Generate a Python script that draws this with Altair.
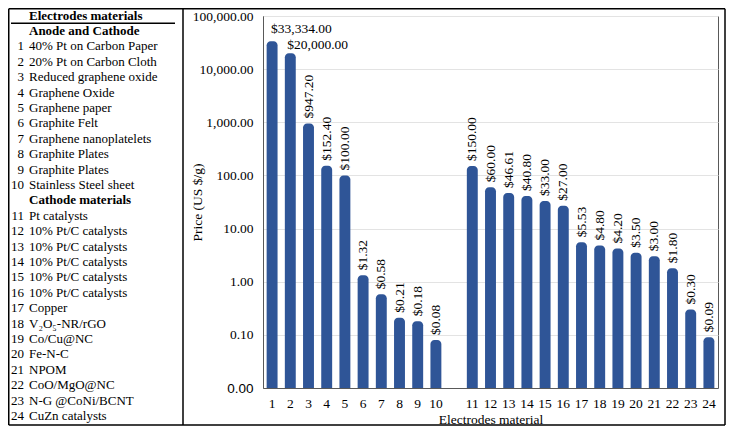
import altair as alt
import pandas as pd

# ---- data ----
ids = [str(i) for i in range(1, 25)]
prices = [33334.00, 20000.00, 947.20, 152.40, 100.00, 1.32, 0.58, 0.21, 0.18, 0.08,
          150.00, 60.00, 46.61, 40.80, 33.00, 27.00, 5.53, 4.80, 4.20, 3.50, 3.00, 1.80, 0.30, 0.09]
horizontal_label = [True, True] + [False] * 22

names = ["40% Pt on Carbon Paper", "20% Pt on Carbon Cloth", "Reduced graphene oxide",
         "Graphene Oxide", "Graphene paper", "Graphite Felt", "Graphene nanoplatelets",
         "Graphite Plates", "Graphite Plates", "Stainless Steel sheet",
         "Pt catalysts", "10% Pt/C catalysts", "10% Pt/C catalysts", "10% Pt/C catalysts",
         "10% Pt/C catalysts", "10% Pt/C catalysts", "Copper", "V\u2082O\u2085-NR/rGO",
         "Co/Cu@NC", "Fe-N-C", "NPOM", "CoO/MgO@NC", "N-G @CoNi/BCNT", "CuZn catalysts"]
table_title = "Electrodes materials"
group_titles = ["Anode and Cathode", "Cathode materials"]
y_ticks = [0.01, 0.1, 1, 10, 100, 1000, 10000, 100000]

# x domain with an empty slot between the two groups
x_domain = ids[:10] + [" "] + ids[10:]

# ---- table rows ----
rows = [{"row": 0, "num": "", "text": table_title, "bold": True},
        {"row": 1, "num": "", "text": group_titles[0], "bold": True}]
r = 2
for i in range(10):
    rows.append({"row": r, "num": ids[i], "text": names[i], "bold": False}); r += 1
rows.append({"row": r, "num": "", "text": group_titles[1], "bold": True}); r += 1
for i in range(10, 24):
    rows.append({"row": r, "num": ids[i], "text": names[i], "bold": False}); r += 1
tdf = pd.DataFrame(rows)

SERIF = "Liberation Serif"
W, H = 455, 372
FS = 13.5

# ---- table (left of the plot) ----
row_scale = alt.Scale(domain=[0, 26], range=[-0.5, 400], nice=False, zero=False)
yrow = alt.Y("row:Q", scale=row_scale, axis=None)
tbase = alt.Chart(tdf)
t_num = tbase.mark_text(align="right", baseline="middle", font=SERIF, fontSize=13, color="black").encode(
    x=alt.value(-239), y=yrow, text="num:N")
t_name = tbase.transform_filter("!datum.bold").mark_text(
    align="left", baseline="middle", font=SERIF, fontSize=13, color="black").encode(
    x=alt.value(-234), y=yrow, text="text:N")
t_bold = tbase.transform_filter("datum.bold").mark_text(
    align="left", baseline="middle", font=SERIF, fontSize=13, fontWeight="bold", color="black").encode(
    x=alt.value(-234), y=yrow, text="text:N")
t_rule = alt.Chart(pd.DataFrame({"p": [0.5]})).mark_rule(color="black", strokeWidth=1.5).encode(
    x=alt.value(-252), x2=alt.value(-88), y=alt.Y("p:Q", scale=row_scale, axis=None))
table = alt.layer(t_num, t_name, t_bold, t_rule)

# ---- bar chart ----
bdf = pd.DataFrame({"id": ids, "price": prices, "horiz": horizontal_label})
yscale = alt.Scale(type="log", domain=[0.01, 100000], nice=False)

xenc = alt.X("id:N", sort=x_domain,
             scale=alt.Scale(domain=x_domain, paddingInner=0.4, paddingOuter=0.2),
             axis=alt.Axis(title="Electrodes material", labelAngle=0, ticks=False, tickSize=0,
                           labelPadding=8, labelFont=SERIF, labelFontSize=FS, labelColor="black",
                           titleFont=SERIF, titleFontSize=FS, titleFontWeight="normal",
                           titleColor="black", titlePadding=3, domainColor="#595959", grid=False))
yenc = alt.Y("price:Q", scale=yscale,
             axis=alt.Axis(title="Price (US $/g)", values=y_ticks, ticks=False, tickSize=0,
                           labelPadding=10, labelFontSize=FS, labelColor="black",
                           labelFont={"condition": {"test": "datum.value < 0.05", "value": "Liberation Sans"},
                                      "value": SERIF},
                           labelExpr="datum.value < 0.05 ? '0.00' : format(datum.value, ',.2f')",
                           grid=True, gridColor="#e3e3e3", domainColor="#595959",
                           titleFont=SERIF, titleFontSize=FS, titleFontWeight="normal",
                           titleColor="black", titlePadding=-12))
ylab = alt.Y("price:Q", scale=yscale)
xlab = alt.X("id:N", sort=x_domain)

bbase = alt.Chart(bdf)
bars = bbase.mark_bar(color="#2F5597", cornerRadiusTopLeft=4, cornerRadiusTopRight=4).encode(
    x=xenc, y=yenc, y2=alt.datum(0.01))
lab_v = bbase.transform_filter("!datum.horiz").mark_text(
    angle=270, align="left", baseline="middle", dx=5, font=SERIF, fontSize=FS, color="black").encode(
    x=xlab, y=ylab, text=alt.Text("price:Q", format="$,.2f"))
lab_h1 = bbase.transform_filter("datum.horiz && datum.id == '1'").mark_text(
    align="left", baseline="bottom", dx=-1, dy=-5, font=SERIF, fontSize=FS, color="black").encode(
    x=xlab, y=ylab, text=alt.Text("price:Q", format="$,.2f"))
lab_h2 = bbase.transform_filter("datum.horiz && datum.id != '1'").mark_text(
    align="left", baseline="bottom", dx=-3, dy=-1, font=SERIF, fontSize=FS, color="black").encode(
    x=xlab, y=ylab, text=alt.Text("price:Q", format="$,.2f"))
plot = alt.layer(bars, lab_v, lab_h1, lab_h2)

# ---- frame lines ----
one = pd.DataFrame({"a": [0]})
fr = alt.Chart(one)
LEFT, DIV, RIGHT, TOP, BOT = -254.25, -80, 462, -7.25, 409
frames = alt.layer(
    fr.mark_rule(color="black", strokeWidth=1.5).encode(x=alt.value(LEFT), x2=alt.value(RIGHT), y=alt.value(TOP)),
    fr.mark_rule(color="black", strokeWidth=1.5).encode(x=alt.value(LEFT), x2=alt.value(RIGHT), y=alt.value(BOT)),
    fr.mark_rule(color="black", strokeWidth=1.5).encode(x=alt.value(LEFT), y=alt.value(TOP), y2=alt.value(BOT)),
    fr.mark_rule(color="black", strokeWidth=1.5).encode(x=alt.value(RIGHT), y=alt.value(TOP), y2=alt.value(BOT)),
    fr.mark_rule(color="black", strokeWidth=1.5).encode(x=alt.value(DIV), y=alt.value(TOP), y2=alt.value(BOT)),
)

chart = alt.layer(plot, table, frames).resolve_scale(y="independent").properties(
    width=W, height=H,
    autosize=alt.AutoSizeParams(type="none"),
    padding={"left": 255, "top": 8, "right": 8, "bottom": 38},
).configure_view(stroke="#595959", strokeWidth=1)

chart.save("out.html", embed_options={"renderer": "svg", "actions": False})
